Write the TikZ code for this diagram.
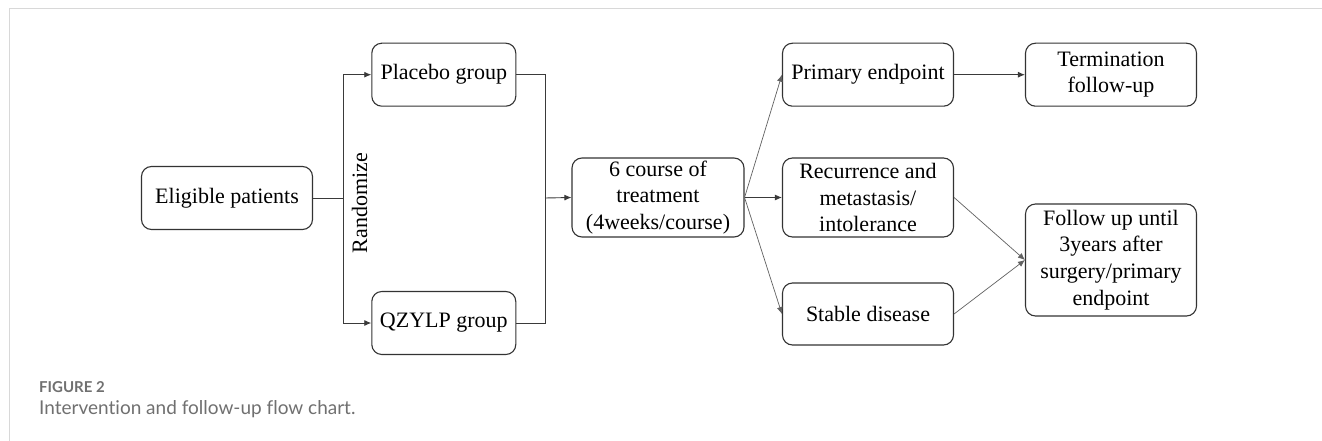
\documentclass[tikz,border=0pt]{standalone}
\usepackage{fontspec}
\setmainfont{Liberation Serif}
\newfontfamily\capfont[Ligatures={NoCommon}]{Lato}
\usetikzlibrary{arrows.meta}
\definecolor{boxline}{HTML}{333333}
\definecolor{conn}{HTML}{3A3A3A}
\definecolor{frameline}{HTML}{D8D8D8}
\definecolor{captext}{HTML}{707070}
\tikzset{
  flowbox/.style={draw=boxline, line width=1.1pt, rounded corners=10pt, align=center,
    inner sep=0pt, font=\fontsize{22}{26.7}\selectfont},
  link/.style={draw=conn, line width=0.9pt},
  arr/.style={link, -{Latex[length=7pt,width=6pt]}},
  diag/.style={draw=conn!80, line width=0.7pt, -{Latex[length=7pt,width=6pt]}}
}
\begin{document}
\begin{tikzpicture}[x=1pt,y=-1pt]
\useasboundingbox (0,0) rectangle (1322,441);
\fill[white] (0,0) rectangle (1322,441);
% frame
\draw[frameline, line width=1.5pt] (9.3,441) -- (9.3,8.5) -- (1322,8.5);

\node[flowbox, minimum width=171pt, minimum height=63pt] (elig) at (227,198) {Eligible patients};
\node[flowbox, minimum width=144pt, minimum height=63pt] (plac) at (443.8,74.7) {Placebo group};
\node[flowbox, minimum width=144pt, minimum height=63pt] (qzy) at (443.8,323) {QZYLP group};
\node[flowbox, minimum width=172pt, minimum height=79pt] (course) at (658,197.5) {6 course of\\treatment\\(4weeks/course)};
\node[flowbox, minimum width=171pt, minimum height=63pt] (prim) at (868,74.7) {Primary endpoint};
\node[flowbox, minimum width=171pt, minimum height=63pt] (term) at (1111,74.7) {Termination\\follow-up};
\node[flowbox, minimum width=171pt, minimum height=79pt] (recur) at (868,197.5) {Recurrence and\\metastasis/\\intolerance};
\node[flowbox, minimum width=171pt, minimum height=62pt] (stab) at (868,314) {Stable disease};
\node[flowbox, minimum width=171pt, minimum height=112pt] (foll) at (1111,260) {Follow up until\\3years after\\surgery/primary\\endpoint};

\node[rotate=90, inner sep=0pt, font=\fontsize{22}{26}\selectfont] (rand) at (359.5,203) {Randomize};

\coordinate (split) at (343,198);
\coordinate (join) at (545,198);
\draw[link] (elig.east) -- (split);
\draw[arr] (split) |- (plac.west);
\draw[arr] (split) |- (qzy.west);
\draw[link] (plac.east) -| (join);
\draw[link] (qzy.east) -| (join);
\draw[arr] (join) -- (course.west);

\draw[diag] (course.east) -- (prim.west);
\draw[arr] (course.east) -- (recur.west);
\draw[diag] (course.east) -- (stab.west);
\draw[arr] (prim.east) -- (term.west);
\draw[diag] (recur.east) -- (foll.west);
\draw[diag] (stab.east) -- (foll.west);

\node[anchor=base west, inner sep=0pt, text=captext, font=\capfont\bfseries\fontsize{15}{17}\selectfont] (fig) at (39,392) {FIGURE 2};
\node[anchor=base west, inner sep=0pt, text=captext, font=\capfont\fontsize{19}{22}\selectfont] (cap) at (39,414) {Intervention and follow-up flow chart.};
\end{tikzpicture}
\end{document}
